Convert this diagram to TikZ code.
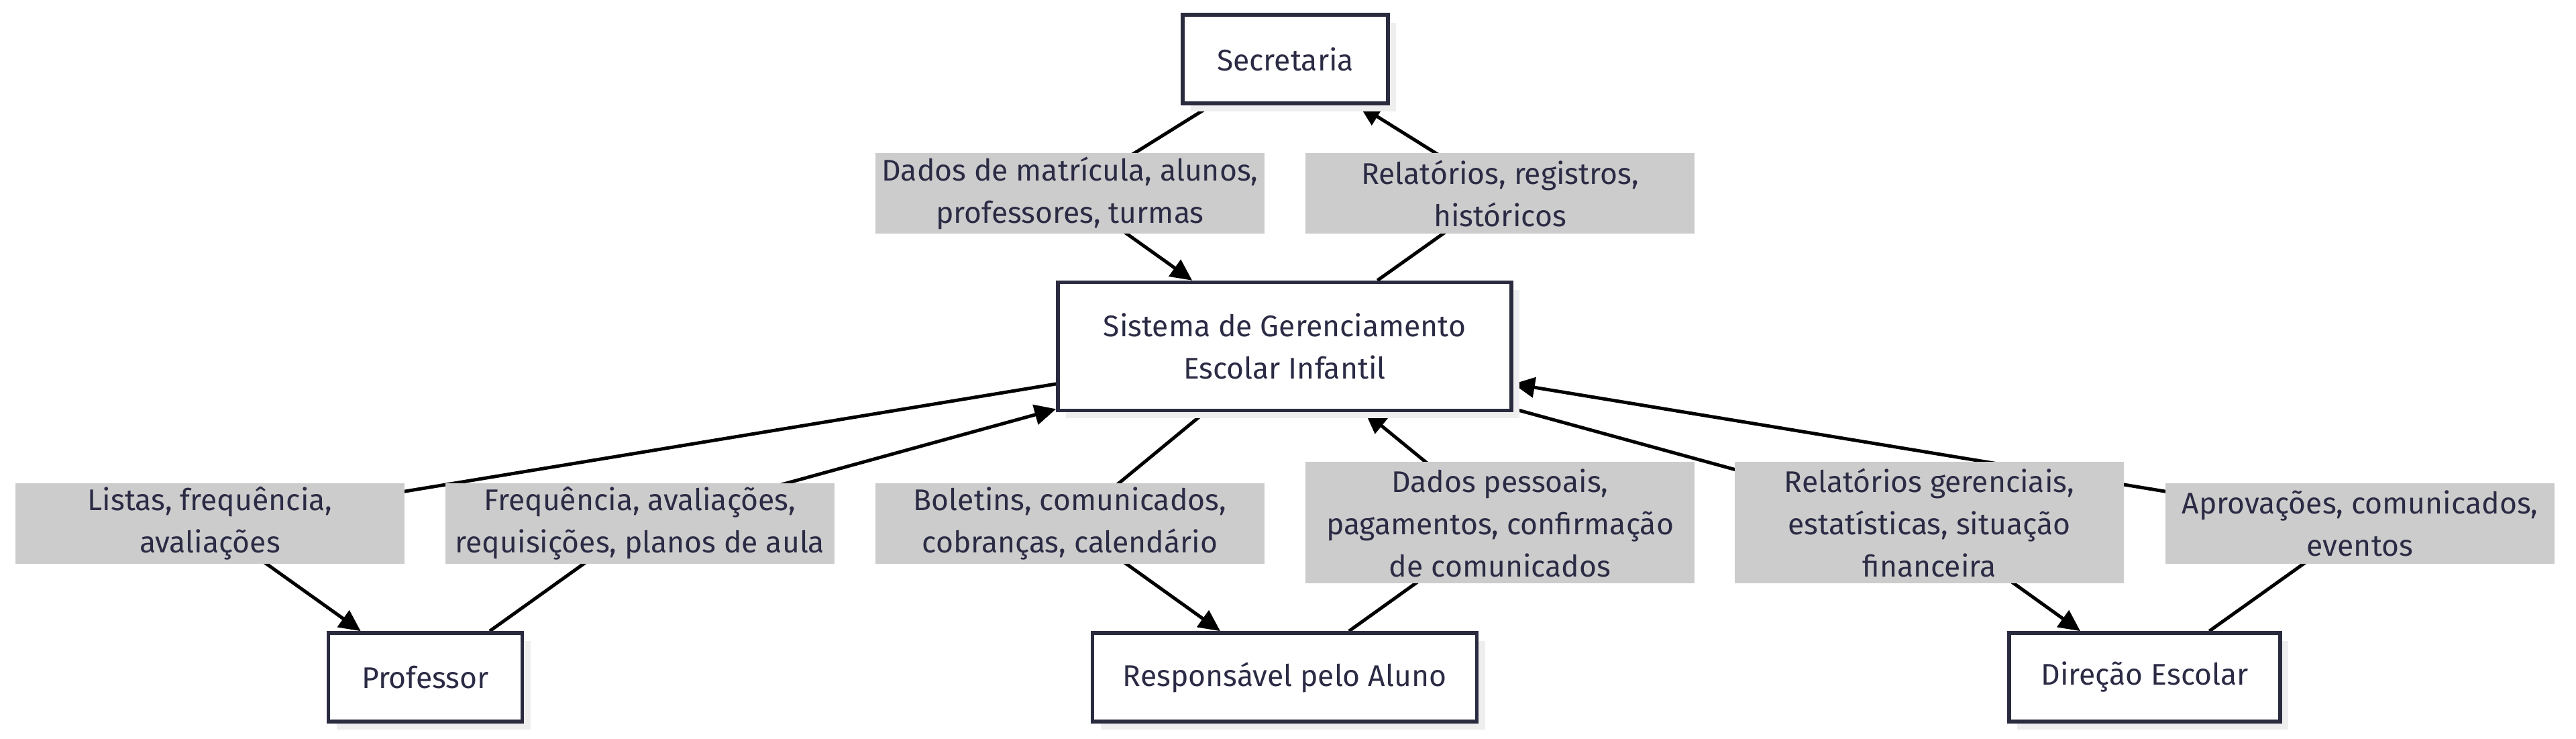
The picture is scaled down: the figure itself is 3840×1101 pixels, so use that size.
\documentclass[tikz,border=0pt]{standalone}
\usepackage{fontspec}
\setmainfont{Fira Sans}
\usetikzlibrary{arrows.meta,shadows,backgrounds}
\definecolor{ink}{HTML}{2B2B45}
\definecolor{frame}{HTML}{2B2B40}
\definecolor{tagfill}{HTML}{CCCCCC}
\definecolor{shade}{HTML}{EEEEEE}
\tikzset{
  actor/.style={draw=frame, fill=white, line width=1.1pt, inner sep=0pt, minimum height=26.4pt, text=ink, font=\fontsize{8.9}{12.6}\selectfont, align=center, drop shadow={shadow xshift=2.4pt, shadow yshift=-2.4pt, fill=shade, opacity=1}},
  core/.style={actor, minimum width=135.2pt, minimum height=38.2pt},
  tag/.style={fill=tagfill, inner sep=0pt, minimum width=116pt, minimum height=24pt, text=ink, font=\fontsize{8.9}{12.6}\selectfont, align=center},
  tagtall/.style={tag, minimum height=36.2pt},
  flow/.style={draw=black, line width=1pt, -{Triangle[length=6.4pt,width=6pt]}},
}
\begin{document}
\begin{tikzpicture}[x=0.2pt, y=-0.2pt]
  \useasboundingbox (0,0) rectangle (3840,1101);

  % actors
  \node[actor, minimum width=61.2pt] (sec) at (1916,88) {Secretaria};
  \node[core] (sys) at (1915,516) {Sistema de Gerenciamento\\Escolar Infantil};
  \node[actor, minimum width=57.8pt] (prof) at (634,1009) {Professor};
  \node[actor, minimum width=114.6pt] (resp) at (1915,1009) {Responsável pelo Aluno};
  \node[actor, minimum width=80.8pt] (dir) at (3197,1009) {Direção Escolar};

  % edge labels
  \node[tag] (lsecin) at (1595,288) {Dados de matrícula, alunos,\\professores, turmas};
  \node[tag] (lsecout) at (2236,288) {Relatórios, registros,\\históricos};
  \node[tag] (lprofout) at (313,780) {Listas, frequência,\\avaliações};
  \node[tag] (lprofin) at (954,780) {Frequência, avaliações,\\requisições, planos de aula};
  \node[tag] (lrespout) at (1595,780) {Boletins, comunicados,\\cobranças, calendário};
  \node[tagtall] (lrespin) at (2236,779) {Dados pessoais,\\pagamentos, confirmação\\de comunicados};
  \node[tagtall] (ldirout) at (2876,779) {Relatórios gerenciais,\\estatísticas, situação\\financeira};
  \node[tag] (ldirin) at (3518,780) {Aprovações, comunicados,\\eventos};

  \begin{scope}[on background layer]
    \draw[flow] (sec) -- (lsecin.center) -- (sys);
    \draw[flow] (sys) -- (lsecout.center) -- (sec);
    \draw[flow] (sys) -- (lprofout.center) -- (prof);
    \draw[flow] (prof) -- (lprofin.center) -- (sys);
    \draw[flow] (sys) -- (lrespout.center) -- (resp);
    \draw[flow] (resp) -- (lrespin.center) -- (sys);
    \draw[flow] (sys) -- (ldirout.center) -- (dir);
    \draw[flow] (dir) -- (ldirin.center) -- (sys);
  \end{scope}
\end{tikzpicture}
\end{document}
